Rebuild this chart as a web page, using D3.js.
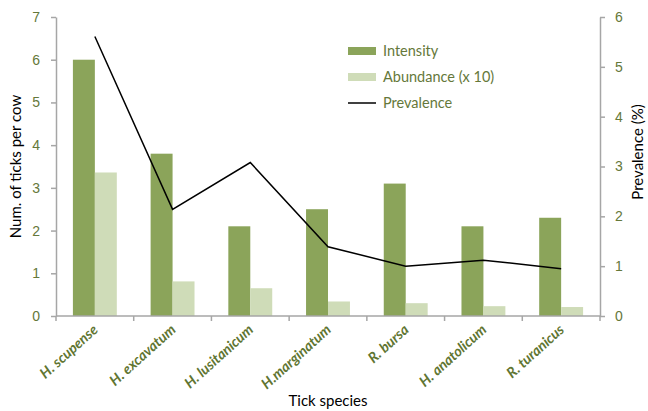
<!DOCTYPE html>
<html>
<head>
<meta charset="utf-8">
<script src="https://cdn.jsdelivr.net/npm/d3@7"></script>
<style>
  body { margin: 0; background: #fff; }
  svg { display: block; font-family: Lato, "Open Sans", sans-serif; }
</style>
</head>
<body>
<div id="chart"></div>
<script>
/* Data */
const species = ["H. scupense", "H. excavatum", "H. lusitanicum", "H.marginatum", "R. bursa", "H. anatolicum", "R. turanicus"]
const intensity = [6.0, 3.8, 2.1, 2.5, 3.1, 2.1, 2.3]
const abundance = [3.36, 0.81, 0.65, 0.34, 0.30, 0.23, 0.21]
const prevalence = [5.61, 2.14, 3.08, 1.39, 1.0, 1.12, 0.95]
const leftTicks = [0, 1, 2, 3, 4, 5, 6, 7]
const rightTicks = [0, 1, 2, 3, 4, 5, 6]

/* Layout */
const WIDTH = 648
const HEIGHT = 411
const X0 = 56, X1 = 600
const Y0 = 316, Y1 = 17
const C_INT = "#8ba45a"
const C_ABU = "#cfdcb8"
const C_TICK = "#65783a"
const C_AXIS = "#a6a6a6"

const svg = d3.select("#chart").append("svg")
  .attr("width", WIDTH).attr("height", HEIGHT);

const x = d3.scaleBand().domain(species).range([X0, X1]).paddingInner(0).paddingOuter(0);
const xSub = d3.scaleBand().domain(["int", "abu"]).range([0, x.bandwidth()]).paddingOuter(0.77);
const yL = d3.scaleLinear().domain([0, 7]).range([Y0, Y1]);
const yR = d3.scaleLinear().domain([0, 6]).range([Y0, Y1]);

/* Bars */
svg.append("g").selectAll("rect.int")
  .data(intensity).enter().append("rect")
  .attr("x", (d, i) => x(species[i]) + xSub("int"))
  .attr("y", d => yL(d))
  .attr("width", xSub.bandwidth())
  .attr("height", d => Y0 - yL(d))
  .attr("fill", C_INT);
svg.append("g").selectAll("rect.abu")
  .data(abundance).enter().append("rect")
  .attr("x", (d, i) => x(species[i]) + xSub("abu"))
  .attr("y", d => yL(d))
  .attr("width", xSub.bandwidth())
  .attr("height", d => Y0 - yL(d))
  .attr("fill", C_ABU);

/* Prevalence line */
const line = d3.line()
  .x((d, i) => x(species[i]) + x.bandwidth() / 2)
  .y(d => yR(d));
svg.append("path").datum(prevalence)
  .attr("d", line)
  .attr("fill", "none")
  .attr("stroke", "#000")
  .attr("stroke-width", 1.5);

/* Axes */
const styleAxis = (g) => {
  g.select(".domain").attr("stroke", C_AXIS).attr("stroke-width", 1.5);
  g.selectAll(".tick line").attr("stroke", C_AXIS).attr("stroke-width", 1.5);
  g.selectAll("text").attr("fill", C_TICK).style("font-size", "14px");
};

const leftAxis = d3.axisLeft(yL).tickValues(leftTicks).tickFormat(d3.format("d"))
  .tickSize(5).tickSizeOuter(0).tickPadding(11);
svg.append("g").attr("transform", `translate(${X0},0)`).call(leftAxis).call(styleAxis);

const rightAxis = d3.axisRight(yR).tickValues(rightTicks).tickFormat(d3.format("d"))
  .tickSize(5).tickSizeOuter(0).tickPadding(10);
svg.append("g").attr("transform", `translate(${X1},0)`).call(rightAxis).call(styleAxis);

/* Category axis: ticks sit on band boundaries */
const boundaries = species.map(s => x(s)).concat([X1]);
const bottom = svg.append("g");
bottom.append("line")
  .attr("x1", X0).attr("x2", X1).attr("y1", Y0).attr("y2", Y0)
  .attr("stroke", C_AXIS).attr("stroke-width", 1.5);
bottom.selectAll("line.tk").data(boundaries).enter().append("line")
  .attr("x1", d => d).attr("x2", d => d)
  .attr("y1", Y0).attr("y2", Y0 + 5)
  .attr("stroke", C_AXIS).attr("stroke-width", 1.5);
bottom.selectAll("text").data(species).enter().append("text")
  .attr("transform", d => `translate(${x(d) + x.bandwidth() / 2 + 4},${Y0 + 15}) rotate(-42)`)
  .attr("text-anchor", "end")
  .attr("fill", "#5f7531")
  .style("font-size", "14.3px")
  .style("font-weight", "bold")
  .style("font-style", "italic")
  .text(d => d);

/* Axis titles */
svg.append("text")
  .attr("transform", `translate(21,${(Y0 + Y1) / 2}) rotate(-90)`)
  .attr("text-anchor", "middle")
  .style("font-size", "15px")
  .text("Num. of ticks per cow");
svg.append("text")
  .attr("transform", `translate(643,152) rotate(-90)`)
  .attr("text-anchor", "middle")
  .style("font-size", "15px")
  .text("Prevalence (%)");
svg.append("text")
  .attr("x", 328).attr("y", 406)
  .attr("text-anchor", "middle")
  .style("font-size", "15px")
  .text("Tick species");

/* Legend */
const legendItems = [
  { label: "Intensity", type: "rect", color: C_INT },
  { label: "Abundance (x 10)", type: "rect", color: C_ABU },
  { label: "Prevalence", type: "line", color: "#000" }
];
const legend = svg.append("g").attr("transform", "translate(348,51)");
legendItems.forEach((it, i) => {
  const g = legend.append("g").attr("transform", `translate(0,${i * 26})`);
  if (it.type === "rect") {
    g.append("rect").attr("x", 0).attr("y", -4).attr("width", 28).attr("height", 8).attr("fill", it.color);
  } else {
    g.append("line").attr("x1", 0).attr("x2", 28).attr("y1", 0).attr("y2", 0)
      .attr("stroke", it.color).attr("stroke-width", 1.5);
  }
  g.append("text").attr("x", 35).attr("y", 5)
    .attr("fill", C_TICK).style("font-size", "14.5px")
    .text(it.label);
});
</script>
</body>
</html>
